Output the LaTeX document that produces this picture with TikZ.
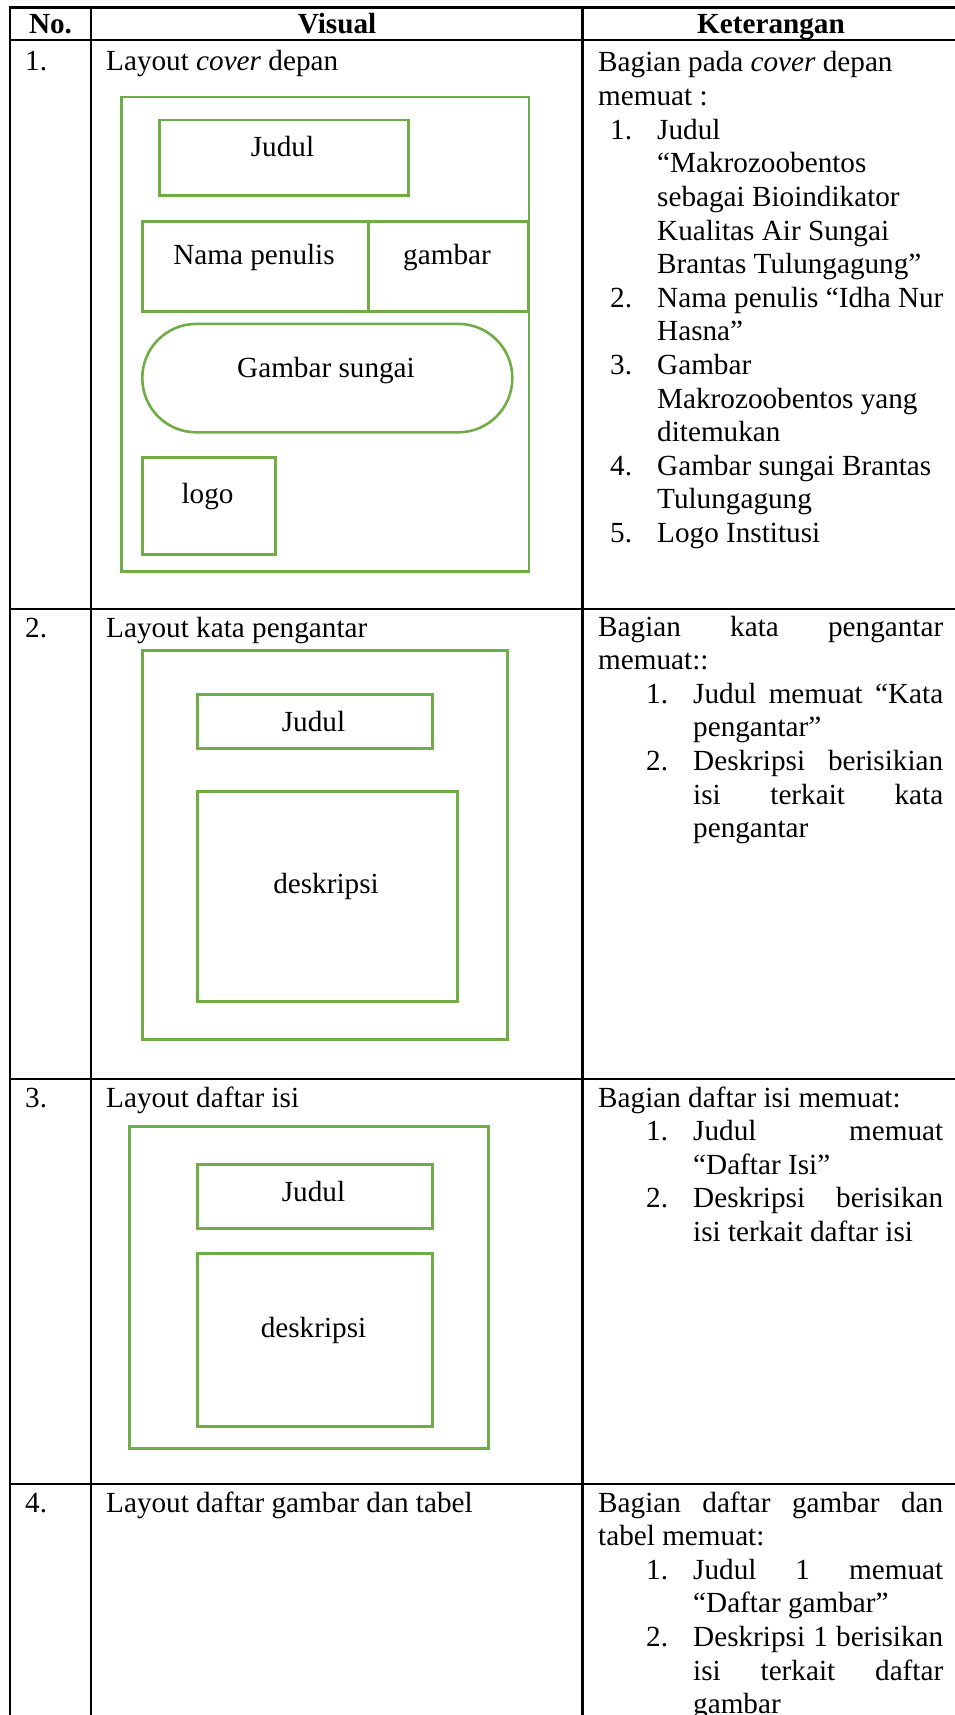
\documentclass[tikz,border=0pt]{standalone}
\usepackage{fontspec}
\setmainfont{Liberation Serif}
\definecolor{boxgreen}{RGB}{112,173,71}
\tikzset{
  rule/.style={line width=2.6pt, black, line cap=rect},
  gbox/.style={draw=boxgreen, line width=2.6pt, inner sep=0pt, anchor=north west},
  txt/.style={anchor=base west, inner sep=0pt, font=\fontsize{29.2}{33.6}\selectfont},
  ctxt/.style={anchor=base, inner sep=0pt, font=\fontsize{29.2}{33.6}\selectfont},
  hdr/.style={anchor=base, inner sep=0pt, font=\fontsize{29.2}{33.6}\selectfont\bfseries}
}
\begin{document}
\begin{tikzpicture}[x=1pt,y=-1pt]
\useasboundingbox (0,0) rectangle (955,1715);
\clip (0,0) rectangle (955,1715);

% ---------- table rules ----------
\draw[rule] (10,7.5) -- (960,7.5);
\draw[rule] (10,40) -- (960,40);
\draw[rule] (10,609) -- (960,609);
\draw[rule] (10,1079) -- (960,1079);
\draw[rule] (10,1484) -- (960,1484);
\draw[rule] (10,7.5) -- (10,1730);
\draw[rule] (91,7.5) -- (91,1730);
\draw[rule] (582.5,7.5) -- (582.5,1730);

% ---------- header ----------
\node[hdr] (hno) at (50.5,34) {No.};
\node[hdr] (hvis) at (337,34) {Visual};
\node[hdr] (hket) at (771,34) {Keterangan};

% ---------- row 1 ----------
\node[txt] (n1) at (25,71) {1.};
\node[txt] (v1) at (106,71) {Layout \textit{cover} depan};

\node[gbox, minimum width=407.5pt, minimum height=474.3pt] (c1o) at (120,95.7) {};
\node[gbox, minimum width=249pt, minimum height=75.8pt] (c1j) at (158,118.6) {};
\node[gbox, minimum width=226pt, minimum height=90pt] (c1n) at (141,220) {};
\node[gbox, minimum width=160pt, minimum height=90pt] (c1g) at (367,220) {};
\node[gbox, minimum width=370pt, minimum height=108.4pt, rounded corners=54pt] (c1s) at (141,322.6) {};
\node[gbox, minimum width=133pt, minimum height=97pt] (c1l) at (141,456) {};

\node[ctxt] (t1j) at (282.5,157) {Judul};
\node[ctxt] (t1n) at (254,264) {Nama penulis};
\node[ctxt] (t1g) at (447,264) {gambar};
\node[ctxt] (t1s) at (326,377) {Gambar sungai};
\node[ctxt] (t1l) at (207.5,503) {logo};

\node[txt] (k1a) at (598,72) {Bagian pada \textit{cover} depan};
\node[txt] (k1b) at (598,105.6) {memuat :};
\node[txt] (k1n1) at (610,139.2) {1.};
\node[txt] (k1c) at (657,139.2) {Judul};
\node[txt] (k1d) at (657,172.8) {“Makrozoobentos};
\node[txt] (k1e) at (657,206.4) {sebagai Bioindikator};
\node[txt] (k1f) at (657,240) {Kualitas Air Sungai};
\node[txt] (k1g) at (657,273.6) {Brantas Tulungagung”};
\node[txt] (k1n2) at (610,307.2) {2.};
\node[txt] (k1h) at (657,307.2) {Nama penulis “Idha Nur};
\node[txt] (k1i) at (657,340.8) {Hasna”};
\node[txt] (k1n3) at (610,374.4) {3.};
\node[txt] (k1j) at (657,374.4) {Gambar};
\node[txt] (k1k) at (657,408) {Makrozoobentos yang};
\node[txt] (k1l) at (657,441.6) {ditemukan};
\node[txt] (k1n4) at (610,475.2) {4.};
\node[txt] (k1m) at (657,475.2) {Gambar sungai Brantas};
\node[txt] (k1o) at (657,508.8) {Tulungagung};
\node[txt] (k1n5) at (610,542.4) {5.};
\node[txt] (k1p) at (657,542.4) {Logo Institusi};

% ---------- row 2 ----------
\node[txt] (n2) at (25,637) {2.};
\node[txt] (v2) at (106,637) {Layout kata pengantar};

\node[gbox, minimum width=365pt, minimum height=389pt] (c2o) at (141,649) {};
\node[gbox, minimum width=235pt, minimum height=54pt] (c2j) at (196,693) {};
\node[gbox, minimum width=260pt, minimum height=210pt] (c2d) at (196,790) {};
\node[ctxt] (t2j) at (313.5,731) {Judul};
\node[ctxt] (t2d) at (326,893) {deskripsi};

\node[txt] (k2a) at (598,636) {\hbox to 345pt{Bagian\hfill kata\hfill pengantar}};
\node[txt] (k2b) at (598,669.6) {memuat::};
\node[txt] (k2n1) at (646,703.2) {1.};
\node[txt] (k2c) at (693,703.2) {\hbox to 250pt{Judul\hfill memuat\hfill “Kata}};
\node[txt] (k2d) at (693,736.8) {pengantar”};
\node[txt] (k2n2) at (646,770.4) {2.};
\node[txt] (k2e) at (693,770.4) {\hbox to 250pt{Deskripsi\hfill berisikian}};
\node[txt] (k2f) at (693,804) {\hbox to 250pt{isi\hfill terkait\hfill kata}};
\node[txt] (k2g) at (693,837.6) {pengantar};

% ---------- row 3 ----------
\node[txt] (n3) at (25,1107) {3.};
\node[txt] (v3) at (106,1107) {Layout daftar isi};

\node[gbox, minimum width=359pt, minimum height=322pt] (c3o) at (128,1125) {};
\node[gbox, minimum width=235pt, minimum height=64pt] (c3j) at (196,1163) {};
\node[gbox, minimum width=235pt, minimum height=173pt] (c3d) at (196,1252) {};
\node[ctxt] (t3j) at (313.5,1201) {Judul};
\node[ctxt] (t3d) at (313.5,1337) {deskripsi};

\node[txt] (k3a) at (598,1107) {Bagian daftar isi memuat:};
\node[txt] (k3n1) at (646,1140.6) {1.};
\node[txt] (k3b) at (693,1140.6) {\hbox to 250pt{Judul\hfill memuat}};
\node[txt] (k3c) at (693,1174.2) {“Daftar Isi”};
\node[txt] (k3n2) at (646,1207.8) {2.};
\node[txt] (k3d) at (693,1207.8) {\hbox to 250pt{Deskripsi\hfill berisikan}};
\node[txt] (k3e) at (693,1241.4) {isi terkait daftar isi};

% ---------- row 4 ----------
\node[txt] (n4) at (25,1512) {4.};
\node[txt] (v4) at (106,1512) {Layout daftar gambar dan tabel};

\node[txt] (k4a) at (598,1512) {\hbox to 345pt{Bagian\hfill daftar\hfill gambar\hfill dan}};
\node[txt] (k4b) at (598,1545.6) {tabel memuat:};
\node[txt] (k4n1) at (646,1579.2) {1.};
\node[txt] (k4c) at (693,1579.2) {\hbox to 250pt{Judul\hfill 1\hfill memuat}};
\node[txt] (k4d) at (693,1612.8) {“Daftar gambar”};
\node[txt] (k4n2) at (646,1646.4) {2.};
\node[txt] (k4e) at (693,1646.4) {\hbox to 250pt{Deskripsi\hfill 1\hfill berisikan}};
\node[txt] (k4f) at (693,1680) {\hbox to 250pt{isi\hfill terkait\hfill daftar}};
\node[txt] (k4g) at (693,1713.6) {gambar};
\end{tikzpicture}
\end{document}
